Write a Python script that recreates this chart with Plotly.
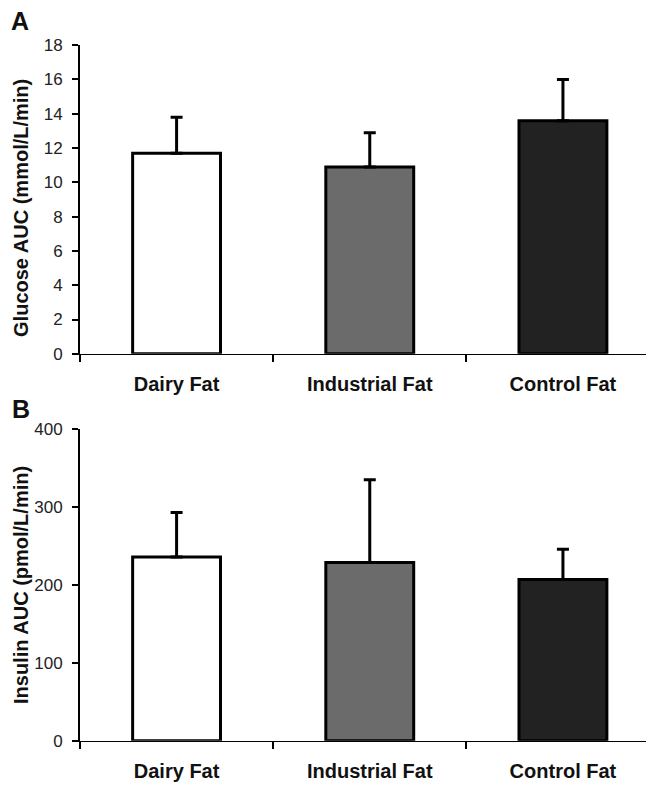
import plotly.graph_objects as go

categories = ["Dairy Fat", "Industrial Fat", "Control Fat"]
glucose_auc = [11.7, 10.9, 13.6]
glucose_se = [2.1, 2.0, 2.4]
insulin_auc = [236, 229, 207]
insulin_se = [57, 106, 39]
bar_colors = ["#ffffff", "#6b6b6b", "#222222"]
glucose_ticks = [0, 2, 4, 6, 8, 10, 12, 14, 16, 18]
insulin_ticks = [0, 100, 200, 300, 400]

# page has an 8px body margin; figure sized to fit exactly in the 654x790 window
OFF = 8
W, H = 654 - 2 * OFF, 790 - 2 * OFF


def fx(px):
    return (px - OFF) / W


def fy(py):
    py = 395 + (py - 395) * 1.02
    return 1 - (py - OFF) / H


fig = go.Figure()


def add_panel(vals, se, xa, ya):
    fig.add_trace(go.Bar(
        x=categories, y=vals, width=0.455,
        marker=dict(color=bar_colors, line=dict(color="black", width=3)),
        error_y=dict(type="data", array=se, arrayminus=[0] * len(se), symmetric=False,
                     color="black", thickness=3, width=6),
        xaxis=xa, yaxis=ya, showlegend=False, hoverinfo="skip",
    ))


add_panel(glucose_auc, glucose_se, "x", "y")
add_panel(insulin_auc, insulin_se, "x2", "y2")

xcommon = dict(
    domain=[fx(80), 1.0], range=[-0.5, 2.43], type="category",
    showline=True, linecolor="black", linewidth=1,
    ticks="outside", tickson="boundaries", ticklen=7, tickwidth=1.5, tickcolor="black",
    tickfont=dict(family="Liberation Sans, Arial", size=20, color="#111111", weight="bold"),
    ticklabelstandoff=12, showgrid=False, zeroline=False, fixedrange=True,
)
ycommon = dict(
    showline=True, linecolor="black", linewidth=2,
    ticks="outside", ticklen=6, tickwidth=1.5, tickcolor="black",
    tickfont=dict(family="Liberation Sans, Arial", size=17, color="#222222"),
    ticklabelstandoff=6,
    showgrid=False, zeroline=False, fixedrange=True,
)

fig.update_layout(
    width=W, height=H,
    margin=dict(l=0, r=0, t=0, b=0),
    paper_bgcolor="white", plot_bgcolor="white",
    xaxis=dict(xcommon, anchor="y"),
    yaxis=dict(ycommon, domain=[fy(355), fy(44)], range=[0, 18],
               tickvals=glucose_ticks, anchor="x"),
    xaxis2=dict(xcommon, anchor="y2"),
    yaxis2=dict(ycommon, domain=[fy(745), fy(431)], range=[0, 400],
                tickvals=insulin_ticks, anchor="x2"),
)

title_font = dict(family="Liberation Sans, Arial", size=20, color="#111111", weight="bold")
fig.add_annotation(text="Glucose AUC (mmol/L/min)", x=fx(21), y=fy(208),
                   xref="paper", yref="paper", xanchor="center", yanchor="middle",
                   textangle=-90, showarrow=False, font=title_font)
fig.add_annotation(text="Insulin AUC (pmol/L/min)", x=fx(21), y=fy(588),
                   xref="paper", yref="paper", xanchor="center", yanchor="middle",
                   textangle=-90, showarrow=False, font=title_font)
panel_font = dict(family="Liberation Sans, Arial", size=25, color="#111111", weight="bold")
fig.add_annotation(text="A", x=fx(20), y=fy(20), xref="paper", yref="paper",
                   xanchor="center", yanchor="middle", showarrow=False, font=panel_font)
fig.add_annotation(text="B", x=fx(21), y=fy(411), xref="paper", yref="paper",
                   xanchor="center", yanchor="middle", showarrow=False, font=panel_font)

fig.write_html("out.html", config={"displayModeBar": False})
